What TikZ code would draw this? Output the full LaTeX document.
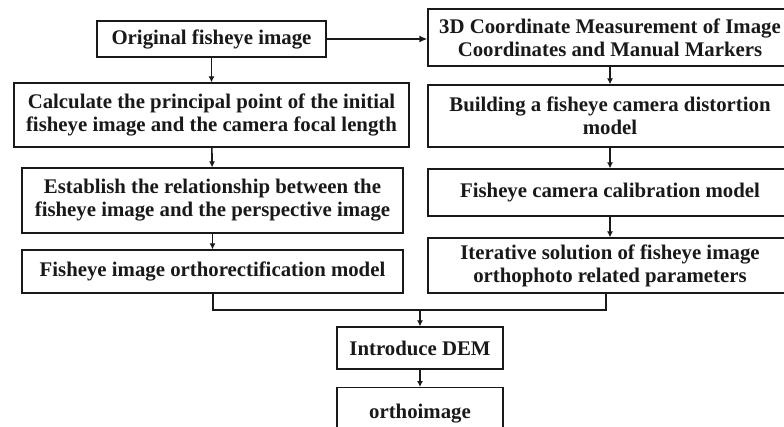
\documentclass[tikz,border=0pt]{standalone}
\usepackage{fontspec}
\setmainfont{Liberation Serif}
\usepackage{xcolor}
\usepackage{tikz}
\usetikzlibrary{arrows.meta,calc}
\definecolor{ink}{RGB}{25,25,25}
\tikzset{
    stage/.style={draw=ink, line width=1.2pt, fill=white, align=center, inner sep=2pt,
        font=\fontsize{20.8}{23}\selectfont\bfseries, text=ink},
    arrow/.style={-{Latex[length=6pt,width=6pt]}, line width=1.6pt, draw=ink},
    bigarrow/.style={-{Latex[length=8pt,width=7pt]}, line width=2.4pt, draw=ink},
    joinline/.style={line width=2pt, draw=ink}
}

\begin{document}
\begin{tikzpicture}[x=1pt,y=-1pt]
\useasboundingbox (0,0) rectangle (784,427);
% left column
\node[stage, minimum width=229pt, minimum height=36pt] (orig) at (211.5,39) {Original fisheye image};
\node[stage, minimum width=395pt, minimum height=64pt] (calc) at (211.5,115) {Calculate the principal point of the initial\\fisheye image and the camera focal length};
\node[stage, minimum width=381pt, minimum height=65pt] (estab) at (212.5,200.5) {Establish the relationship between the\\fisheye image and the perspective image};
\node[stage, minimum width=381pt, minimum height=43pt] (ortho) at (212.5,271.5) {Fisheye image orthorectification model};
% right column
\node[stage, minimum width=364pt, minimum height=57pt] (meas) at (610,37.5) {3D Coordinate Measurement of Image\\Coordinates and Manual Markers};
\node[stage, minimum width=364pt, minimum height=62pt] (distort) at (610,116) {Building a fisheye camera distortion\\model};
\node[stage, minimum width=364pt, minimum height=47pt] (calib) at (610,192.5) {Fisheye camera calibration model};
\node[stage, minimum width=364pt, minimum height=55pt] (iter) at (610,265.5) {Iterative solution of fisheye image\\orthophoto related parameters};
% bottom
\node[stage, minimum width=166pt, minimum height=42pt] (dem) at (420,348) {Introduce DEM};
\node[stage, minimum width=166pt, minimum height=52pt, anchor=north] (result) at (420,387) {orthoimage};
\coordinate (join) at (420,310);

\draw[bigarrow] (orig.east) -- (orig.east -| meas.west);
\draw[arrow] (orig) -- (calc);
\draw[arrow] (calc) -- (estab);
\draw[arrow] (estab) -- (ortho);
\draw[arrow] (meas) -- (distort);
\draw[arrow] (distort) -- (calib);
\draw[arrow] (calib) -- (iter);
\draw[joinline] (ortho.south) |- (join) -| ([xshift=-4pt]iter.south);
\draw[arrow] (join) -- (dem);
\draw[arrow] (dem) -- (result);
\end{tikzpicture}
\end{document}
